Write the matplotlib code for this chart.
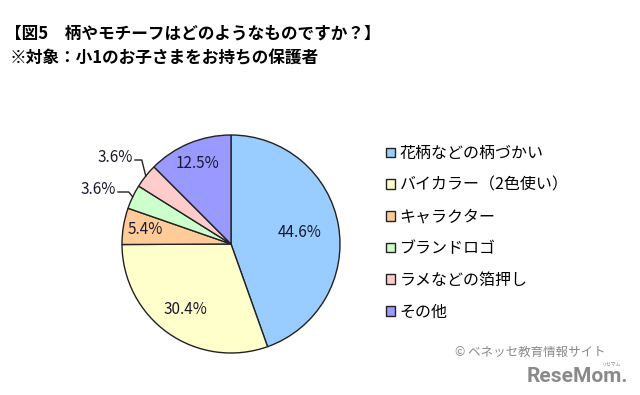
import numpy as np
import matplotlib
matplotlib.use("Agg")
import matplotlib.pyplot as plt

plt.rcParams['font.family'] = ['Noto Sans CJK JP', 'DejaVu Sans']

# data
labels = ['花柄などの柄づかい', 'バイカラー（2色使い）', 'キャラクター',
          'ブランドロゴ', 'ラメなどの箔押し', 'その他']
values = [44.6, 30.4, 5.4, 3.6, 3.6, 12.5]
colors = ['#99ccff', '#ffffcc', '#ffcc99', '#ccffcc', '#ffcccc', '#9999ff']
pct_text = ['44.6%', '30.4%', '5.4%', '3.6%', '3.6%', '12.5%']

W, H = 640, 395
fig = plt.figure(figsize=(6.4, 3.95), dpi=100)
ax = fig.add_axes([0, 0, 1, 1])

cx, cy, R = 231, H - 244, 109
wedges, _ = ax.pie(values, colors=colors, startangle=90, counterclock=False,
                   center=(cx, cy), radius=R, frame=True,
                   wedgeprops=dict(edgecolor='#222222', linewidth=1.0))
ax.set_xlim(0, W)
ax.set_ylim(0, H)
ax.set_aspect('equal')
ax.axis('off')

# inside labels
inside = {0: 0.64, 1: 0.73, 2: 0.80, 5: 0.80}
for i, d in inside.items():
    w = wedges[i]
    a = np.deg2rad((w.theta1 + w.theta2) / 2)
    ax.text(cx + d * R * np.cos(a), cy + d * R * np.sin(a), pct_text[i],
            ha='center', va='center', fontsize=11, color='#1a1a2e')

# outside labels with leader lines
outside = {3: (116, H - 190), 4: (133, H - 158)}
for i, (tx, ty) in outside.items():
    w = wedges[i]
    a = np.deg2rad((w.theta1 + w.theta2) / 2)
    ex, ey = cx + R * np.cos(a), cy + R * np.sin(a)
    ax.text(tx, ty, pct_text[i], ha='right', va='center', fontsize=11, color='#1a1a2e')
    ax.plot([tx + 2, ex - 4, ex], [ty - 2, ty - 2, ey], color='#222222', lw=1.0)

leg = ax.legend(wedges, labels, loc='upper left', bbox_to_anchor=(378 / W, 1 - 137 / H),
                frameon=False, fontsize=11.5, handlelength=0.55, handleheight=0.55,
                handletextpad=0.3, labelspacing=0.92, borderpad=0)

# title
fig.text(5 / W, 1 - 33 / H, '【図5　柄やモチーフはどのようなものですか？】',
         fontsize=12, fontweight='bold', va='center', ha='left')
fig.text(10 / W, 1 - 58 / H, '※対象：小1のお子さまをお持ちの保護者',
         fontsize=12, fontweight='bold', va='center', ha='left')

# credits
fig.text(606 / W, 1 - 352 / H, '© ベネッセ教育情報サイト', fontsize=9,
         color='#8a8a8a', ha='right', va='center')
fig.text(628 / W, 1 - 377 / H, 'ReseMom.', fontsize=15, fontweight='bold',
         color='#8a8a8a', ha='right', va='center', family='Roboto')
fig.text(612 / W, 1 - 364 / H, 'リセマム', fontsize=3.5, color='#8a8a8a',
         ha='center', va='center')

fig.savefig('out.png', dpi=100)
